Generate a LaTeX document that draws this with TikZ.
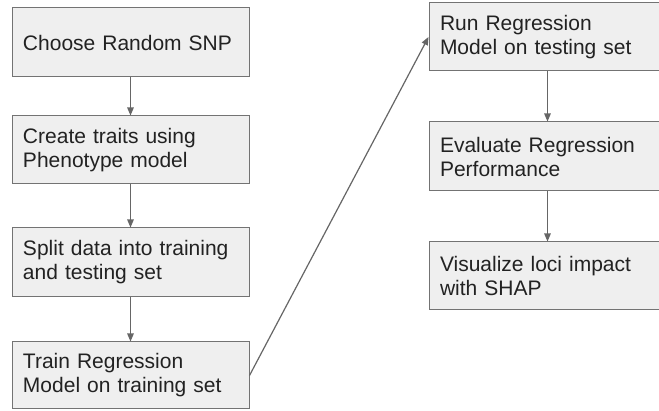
\documentclass[tikz,border=0pt]{standalone}
\usepackage{fontspec}
\setmainfont{Liberation Sans}
\usetikzlibrary{arrows.meta}
\definecolor{boxfill}{HTML}{EFEFEF}
\definecolor{boxline}{HTML}{737373}
\definecolor{txt}{HTML}{222222}
\definecolor{link}{HTML}{666666}
\tikzset{
  stepbox/.style={draw=boxline, fill=boxfill, line width=1pt, rectangle,
    minimum width=237pt, text width=215pt, inner xsep=11pt, inner ysep=0pt,
    align=left, text=txt, font=\fontsize{21}{24}\selectfont},
  flow/.style={draw=link, line width=1.2pt,
    -{Triangle[length=8pt,width=6.5pt]}},
}
\begin{document}
\begin{tikzpicture}[x=1pt,y=-1pt]
\useasboundingbox (0,0) rectangle (659,411);
\clip (0,0) rectangle (659,411);
\fill[white] (0,0) rectangle (659,411);

% left column
\node[stepbox, minimum height=69pt] (b1) at (130.5,42.5) {Choose Random SNP};
\node[stepbox, minimum height=68pt] (b2) at (130.5,150) {Create traits using\\Phenotype model};
\node[stepbox, minimum height=69pt] (b3) at (130.5,262.5) {Split data into training\\and testing set};
\node[stepbox, minimum height=67pt] (b4) at (130.5,375.5) {Train Regression\\Model on training set};

% right column
\node[stepbox, minimum height=68pt] (b5) at (547.5,37) {Run Regression\\Model on testing set};
\node[stepbox, minimum height=69pt] (b6) at (547.5,156.5) {Evaluate Regression\\Performance};
\node[stepbox, minimum height=68pt] (b7) at (547.5,276) {Visualize loci impact\\with SHAP};

% connectors
\draw[flow] (b1) -- (b2);
\draw[flow] (b2) -- (b3);
\draw[flow] (b3) -- (b4);
\draw[flow] (b4.east) -- (b5.west);
\draw[flow] (b5) -- (b6);
\draw[flow] (b6) -- (b7);
\end{tikzpicture}
\end{document}
